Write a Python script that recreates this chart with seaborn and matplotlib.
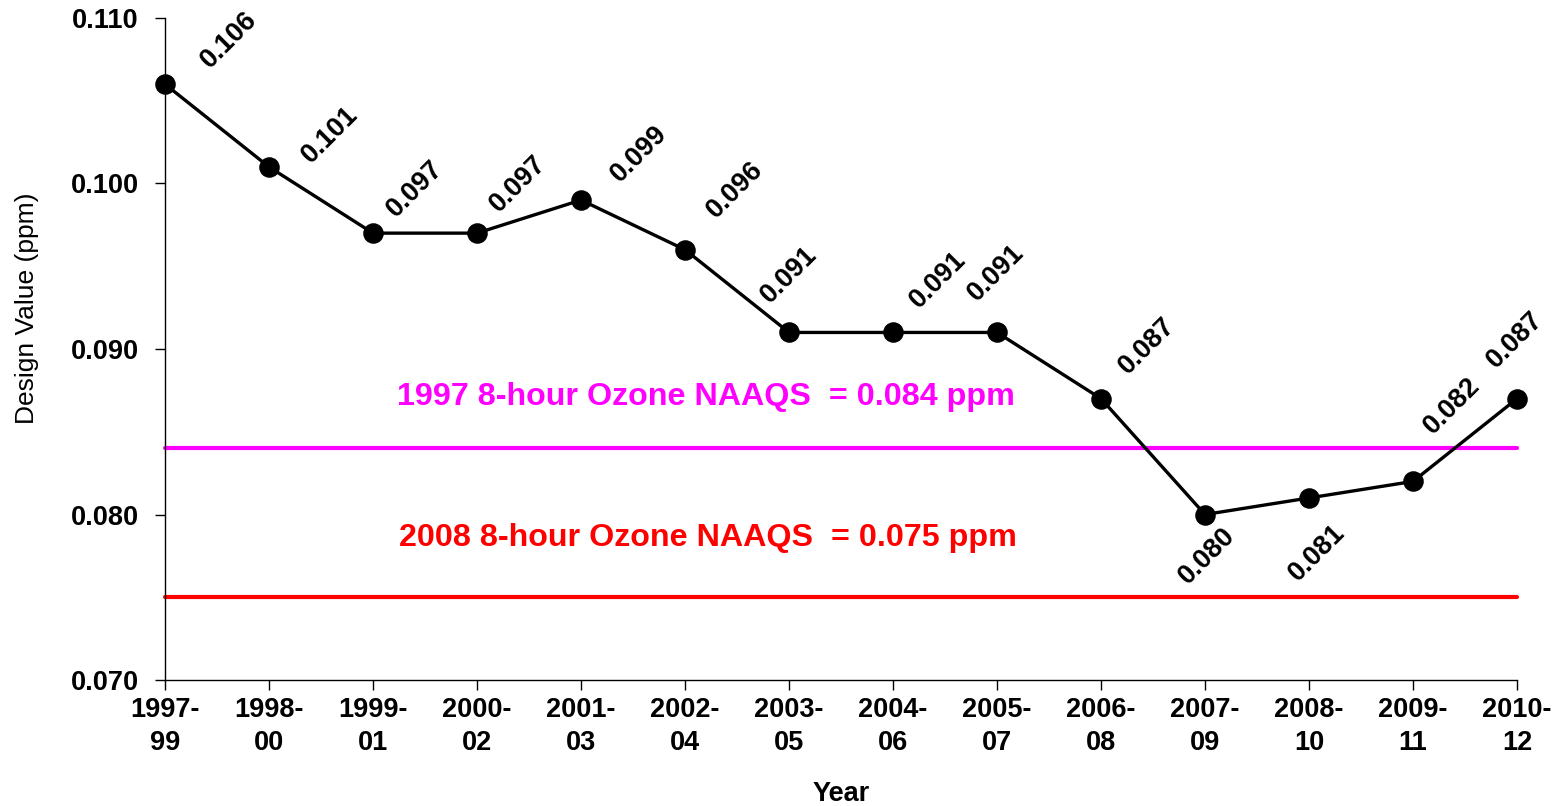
import matplotlib
matplotlib.use('Agg')
import matplotlib.pyplot as plt
import seaborn as sns
import pandas as pd

periods = ['1997-\n99', '1998-\n00', '1999-\n01', '2000-\n02', '2001-\n03', '2002-\n04', '2003-\n05',
           '2004-\n06', '2005-\n07', '2006-\n08', '2007-\n09', '2008-\n10', '2009-\n11', '2010-\n12']
design_values = [0.106, 0.101, 0.097, 0.097, 0.099, 0.096, 0.091,
                 0.091, 0.091, 0.087, 0.080, 0.081, 0.082, 0.087]
naaqs_1997 = 0.084
naaqs_2008 = 0.075

df = pd.DataFrame({'period': periods, 'value': design_values})

sns.set_style('ticks')
plt.rcParams['font.family'] = ['Liberation Sans', 'DejaVu Sans']
plt.rcParams['text.color'] = 'black'
plt.rcParams['xtick.color'] = 'black'
plt.rcParams['ytick.color'] = 'black'
plt.rcParams['axes.labelcolor'] = 'black'

fig = plt.figure(figsize=(15.67, 8.06), dpi=100)
ax = fig.add_axes([0.1053, 0.1563, 0.8628, 0.8214])

# standards lines
ax.axhline(naaqs_1997, color='#ff00ff', lw=3, zorder=1)
ax.axhline(naaqs_2008, color='#ff0000', lw=3, zorder=1)

sns.pointplot(data=df, x='period', y='value', color='black', markers='o',
              markersize=13, linewidth=2.4, errorbar=None, ax=ax, zorder=3)
for art in ax.lines + ax.collections:
    art.set_clip_on(False)

# label offsets in pixels (hand placed, like the original)
offs = [(64, -44), (61, -32), (42, -44), (41, -49), (58, -46), (50, -60), (0, -57),
        (45, -52), (-1, -59), (46, -53), (2, 41), (8, 55), (39, -75), (-2, -59)]
for i, (v, (dx, dy)) in enumerate(zip(design_values, offs)):
    ax.annotate(f'{v:.3f}', (i, v), xytext=(dx, -dy), textcoords='offset pixels',
                ha='center', va='center', rotation=45, fontsize=19.5, fontweight='bold')

ax.text(2.23, 0.0871, '1997 8-hour Ozone NAAQS  = 0.084 ppm', color='#ff00ff',
        fontsize=23.2, fontweight='bold', va='center', ha='left')
ax.text(2.25, 0.0786, '2008 8-hour Ozone NAAQS  = 0.075 ppm', color='#ff0000',
        fontsize=23.2, fontweight='bold', va='center', ha='left')

ax.set_xlim(0, len(periods) - 1)
ax.set_ylim(0.070, 0.110)
ax.set_yticks([0.070, 0.080, 0.090, 0.100, 0.110])
ax.set_yticklabels([f'{t:.3f}' for t in ax.get_yticks()])
ax.tick_params(axis='y', length=7, width=1, pad=12, labelsize=19.5)
ax.tick_params(axis='x', length=7, width=1, pad=5, labelsize=19.5)
for lab in ax.get_xticklabels() + ax.get_yticklabels():
    lab.set_fontweight('bold')
    lab.set_linespacing(1.35)

sns.despine(ax=ax)
for s in ['left', 'bottom']:
    ax.spines[s].set_linewidth(1)
    ax.spines[s].set_color('black')

ax.set_xlabel('Year', fontsize=19.5, fontweight='bold', labelpad=18)
ax.set_ylabel('Design Value (ppm)', fontsize=19)
ax.yaxis.set_label_coords(-0.093, 0.562)

fig.savefig('out.png', dpi=100)
